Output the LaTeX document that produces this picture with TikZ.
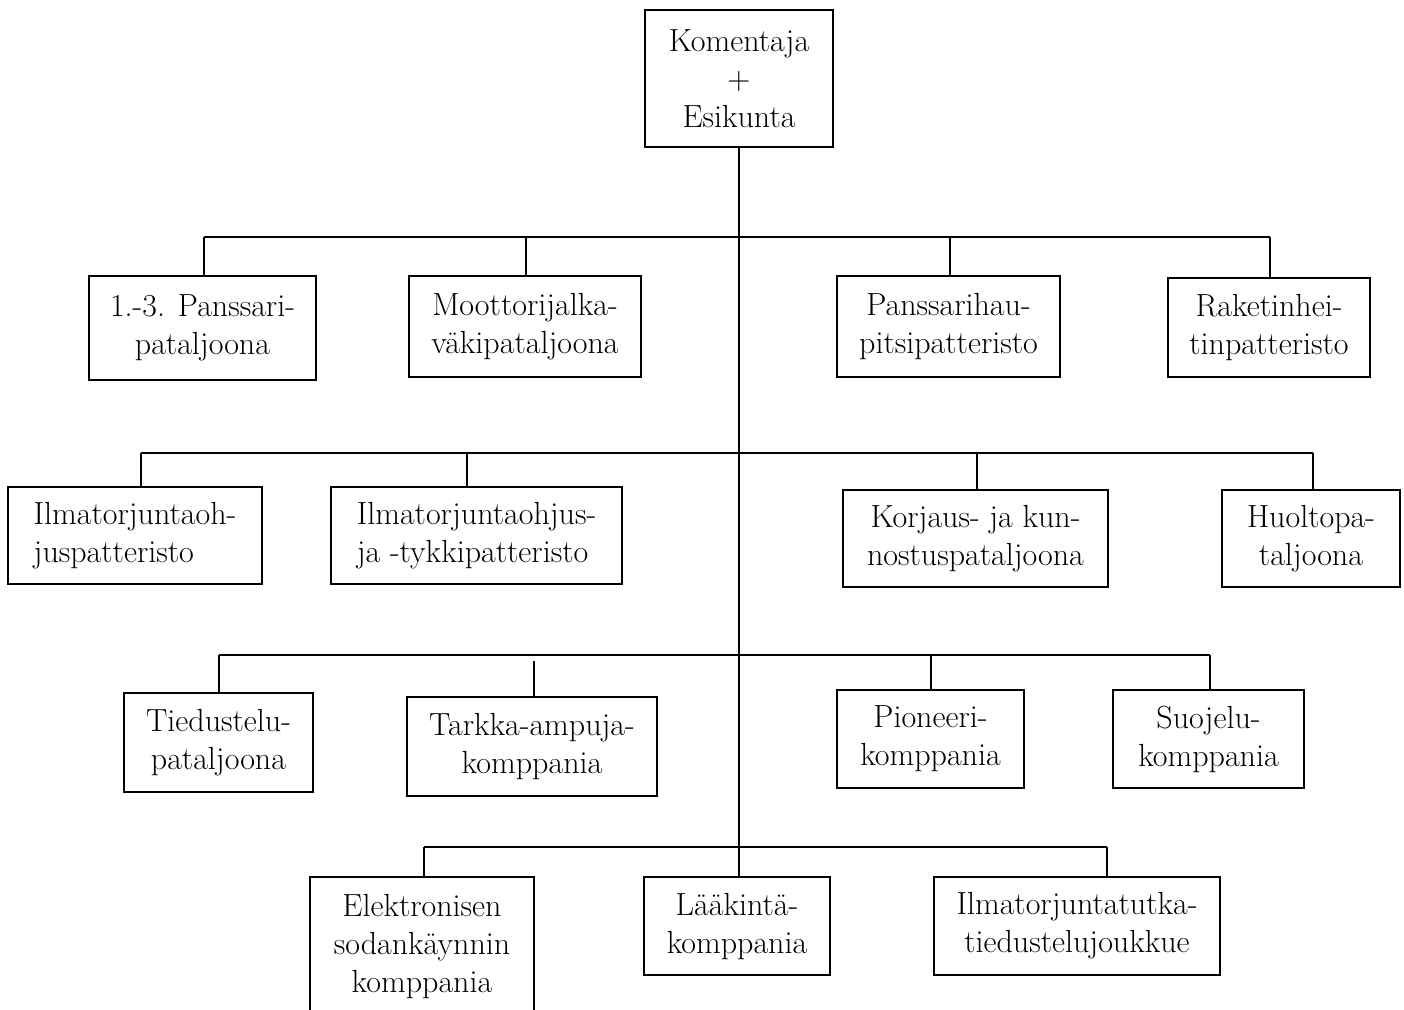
\documentclass[tikz,border=0pt]{standalone}
\begin{document}
\begin{tikzpicture}[x=0.5pt,y=-0.5pt,
  unit/.style={draw, line width=1pt, align=center, inner sep=0pt,
    font=\fontsize{16pt}{19pt}\selectfont},
  link/.style={line width=1pt}]
\useasboundingbox (0,0) rectangle (1404,1009);
\clip (0,0) rectangle (1404,1009);
% top
\node[unit, minimum width=94pt, minimum height=68.5pt] (top) at (739,78.5) {Komentaja\\+\\Esikunta};
% row 1
\node[unit, minimum width=113.5pt, minimum height=52pt] (b11) at (202.5,328) {1.-3. Panssari-\\pataljoona};
\node[unit, minimum width=116pt, minimum height=50.5pt] (b12) at (525,326.5) {Moottorijalka-\\väkipataljoona};
\node[unit, minimum width=111.5pt, minimum height=50.5pt] (b13) at (948.5,326.5) {Panssarihau-\\pitsipatteristo};
\node[unit, minimum width=101pt, minimum height=49.5pt] (b14) at (1269,327.5) {Raketinhei-\\tinpatteristo};
% row 2
\node[unit, align=left, minimum width=127pt, minimum height=48.5pt] (b21) at (135,535.5) {Ilmatorjuntaoh-\\juspatteristo};
\node[unit, align=left, minimum width=145.5pt, minimum height=48.5pt] (b22) at (476.5,535.5) {Ilmatorjuntaohjus-\\ja -tykkipatteristo};
\node[unit, minimum width=132.5pt, minimum height=48.5pt] (b23) at (975.5,538.5) {Korjaus- ja kun-\\nostuspataljoona};
\node[unit, minimum width=89pt, minimum height=48.5pt] (b24) at (1311,538.5) {Huoltopa-\\taljoona};
% row 3
\node[unit, minimum width=94.5pt, minimum height=49.5pt] (b31) at (218.5,742.5) {Tiedustelu-\\pataljoona};
\node[unit, minimum width=125pt, minimum height=49.5pt] (b32) at (532,746.5) {Tarkka-ampuja-\\komppania};
\node[unit, minimum width=93.5pt, minimum height=49pt] (b33) at (930.5,739) {Pioneeri-\\komppania};
\node[unit, minimum width=95.5pt, minimum height=49pt] (b34) at (1208.5,739) {Suojelu-\\komppania};
% row 4
\node[unit, minimum width=112pt, minimum height=69pt] (b41) at (422,946) {Elektronisen\\sodankäynnin\\komppania};
\node[unit, minimum width=93pt, minimum height=49pt] (b42) at (737,926) {Lääkintä-\\komppania};
\node[unit, minimum width=143pt, minimum height=49pt] (b43) at (1077,926) {Ilmatorjuntatutka-\\tiedustelujoukkue};
% trunk
\draw[link] (top.south) -- (top.south |- b42.north);
% bars
\coordinate (r1a) at (204,237); \coordinate (r1b) at (526,237);
\coordinate (r1c) at (950,237); \coordinate (r1d) at (1270,237);
\coordinate (r2a) at (141,453); \coordinate (r2b) at (467,453);
\coordinate (r2c) at (977,453); \coordinate (r2d) at (1313,453);
\coordinate (r3a) at (219,655); \coordinate (r3b) at (534,661);
\coordinate (r3c) at (931,655); \coordinate (r3d) at (1210,655);
\coordinate (r4a) at (424,847); \coordinate (r4c) at (1107,847);
\draw[link] (r1a) -- (r1d);
\draw[link] (r2a) -- (r2d);
\draw[link] (r3a) -- (r3d);
\draw[link] (r4a) -- (r4c);
% drops
\draw[link] (r1a) -- (r1a |- b11.north);
\draw[link] (r1b) -- (r1b |- b12.north);
\draw[link] (r1c) -- (r1c |- b13.north);
\draw[link] (r1d) -- (r1d |- b14.north);
\draw[link] (r2a) -- (r2a |- b21.north);
\draw[link] (r2b) -- (r2b |- b22.north);
\draw[link] (r2c) -- (r2c |- b23.north);
\draw[link] (r2d) -- (r2d |- b24.north);
\draw[link] (r3a) -- (r3a |- b31.north);
\draw[link] (r3b) -- (r3b |- b32.north);
\draw[link] (r3c) -- (r3c |- b33.north);
\draw[link] (r3d) -- (r3d |- b34.north);
\draw[link] (r4a) -- (r4a |- b41.north);
\draw[link] (r4c) -- (r4c |- b43.north);
\end{tikzpicture}
\end{document}
